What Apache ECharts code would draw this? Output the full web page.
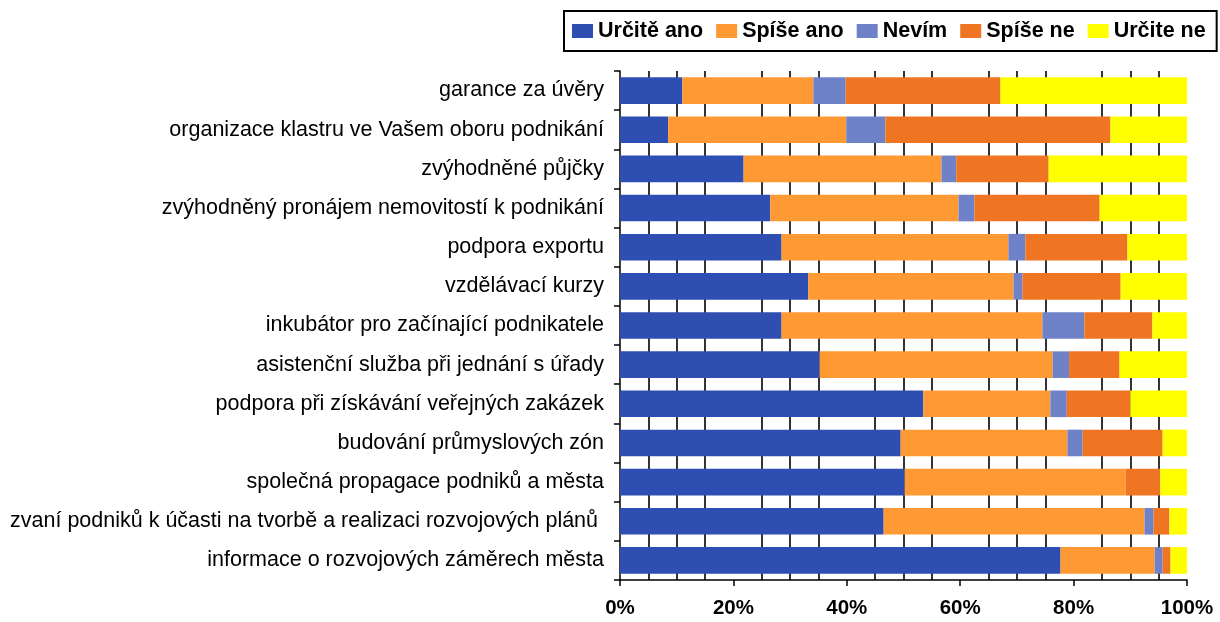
<!DOCTYPE html>
<html>
<head>
<meta charset="utf-8">
<title>Podpora podnikání</title>
<script src="https://cdn.jsdelivr.net/npm/echarts@6/dist/echarts.min.js"></script>
<style>
    html, body { margin: 0; padding: 0; background: #fff; }
    #chart { width: 1220px; height: 622px; }
</style>
</head>
<body>
<div id="chart"></div>
<script>
// categories, top to bottom
const categories = [
    'garance za úvěry',
    'organizace klastru ve Vašem oboru podnikání',
    'zvýhodněné půjčky',
    'zvýhodněný pronájem nemovitostí k podnikání',
    'podpora exportu',
    'vzdělávací kurzy',
    'inkubátor pro začínající podnikatele',
    'asistenční služba při jednání s úřady',
    'podpora při získávání veřejných zakázek',
    'budování průmyslových zón',
    'společná propagace podniků a města',
    'zvaní podniků k účasti na tvorbě a realizaci rozvojových plánů ',
    'informace o rozvojových záměrech města'
];

const seriesNames = ['Určitě ano', 'Spíše ano', 'Nevím', 'Spíše ne', 'Určite ne'];

// shares in percent, same order as categories
const urciteAno = [11.0, 8.5, 21.8, 26.5, 28.5, 33.2, 28.5, 35.2, 53.5, 49.5, 50.2, 46.5, 77.7];
const spiseAno = [23.1, 31.4, 34.9, 33.2, 40.0, 36.2, 46.0, 41.1, 22.4, 29.4, 39.0, 46.0, 16.6];
const nevim = [5.7, 6.9, 2.6, 2.8, 3.0, 1.6, 7.4, 2.9, 2.9, 2.7, 0, 1.6, 1.4];
const spiseNe = [27.3, 39.7, 16.3, 22.1, 18.0, 17.3, 12.0, 8.9, 11.2, 14.1, 6.1, 2.8, 1.4];
const urciteNe = [32.9, 13.5, 24.4, 15.4, 10.5, 11.7, 6.1, 11.9, 10.0, 4.3, 4.7, 3.1, 2.9];

const colors = ['#2f4eb2', '#ff9933', '#6f82c8', '#f07522', '#ffff00'];

/**
 * Renders the stacked 100% bar chart.
 */
function renderChart() {
    const chartDiv = document.getElementById('chart');
    const chart = echarts.init(chartDiv);
    const values = [urciteAno, spiseAno, nevim, spiseNe, urciteNe];
    const fontFamily = '"Liberation Sans", Arial, sans-serif';

    const series = seriesNames.map(function (name, i) {
        return {
            name: name,
            type: 'bar',
            stack: 'total',
            barCategoryGap: '32%',
            itemStyle: { color: colors[i] },
            data: values[i]
        };
    });

    const options = {
        animation: false,
        color: colors,
        textStyle: { fontFamily: fontFamily, color: '#000' },
        legend: {
            data: seriesNames,
            left: 564,
            top: 11,
            padding: [9, 11, 9, 8],
            borderColor: '#000',
            borderWidth: 2,
            itemGap: 13,
            itemWidth: 21,
            itemHeight: 14,
            icon: 'rect',
            textStyle: {
                fontFamily: fontFamily,
                fontWeight: 'bold',
                fontSize: 21.5,
                color: '#000'
            }
        },
        grid: {
            left: 620,
            right: 33,
            top: 71,
            bottom: 42
        },
        xAxis: {
            type: 'value',
            min: 0,
            max: 100,
            interval: 20,
            axisLine: { show: true, lineStyle: { color: '#000', width: 1.5 } },
            axisTick: { show: true, length: 6, lineStyle: { color: '#000', width: 1.5 } },
            minorTick: { show: false, splitNumber: 4 },
            splitLine: { show: false },
            minorSplitLine: { show: true, lineStyle: { color: '#000', width: 1.6 } },
            axisLabel: {
                formatter: '{value}%',
                fontFamily: fontFamily,
                fontWeight: 'bold',
                fontSize: 20.5,
                color: '#000',
                margin: 18
            }
        },
        yAxis: {
            type: 'category',
            inverse: true,
            data: categories,
            axisLine: { show: true, lineStyle: { color: '#000', width: 1.5 } },
            axisTick: { show: true, length: 6, lineStyle: { color: '#000', width: 1.5 } },
            axisLabel: {
                fontFamily: fontFamily,
                fontSize: 21.5,
                color: '#000',
                margin: 16
            }
        },
        series: series
    };
    chart.setOption(options);
}

renderChart();
</script>
</body>
</html>
